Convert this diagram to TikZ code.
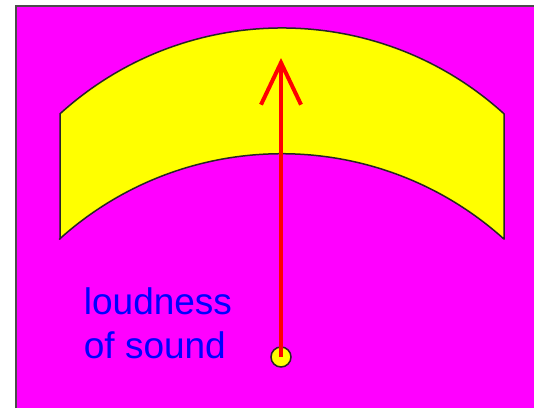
\documentclass[tikz,border=0pt]{standalone}
\usepackage{fontspec}
\setmainfont{Liberation Sans}
\usetikzlibrary{arrows.meta,positioning}
\definecolor{panelpink}{RGB}{255,0,255}
\definecolor{bandyellow}{RGB}{255,255,0}
\definecolor{needlered}{RGB}{255,0,0}
\definecolor{labelblue}{RGB}{0,0,255}

\begin{document}
\begin{tikzpicture}[
  x=0.5pt, y=0.5pt,
  panel/.style={fill=panelpink},
  frame/.style={draw=black!70, line width=0.8pt},
  band/.style={draw=black!85, line width=0.75pt, fill=bandyellow, line join=round},
  pointer/.style={draw=needlered, line width=2pt, -{Straight Barb[length=21pt, width=20pt]}},
  pivotdot/.style={circle, draw=black!85, line width=0.75pt, fill=bandyellow,
                   minimum size=10pt, inner sep=0pt},
  label/.style={text=labelblue, align=left, inner sep=0pt,
                font=\fontsize{18.5}{22}\selectfont}
]
\useasboundingbox (0,0) rectangle (534,408);
% background panel
\fill[panel] (16,0) rectangle (534,402);
\draw[frame] (16,0) -- (16,402) -- (534,402);
% the curved scale
\draw[band] (60,168.9) -- (60,294.2) arc[start angle=132.28, end angle=47.72, radius=330]
  -- (504,168.9) arc[start angle=47.97, end angle=132.03, radius=332] -- cycle;
% needle
\node[pivotdot] (pivot) at (281,51) {};
\coordinate (tip) at (281,350);
\draw[pointer] (pivot.center) -- (tip);
\node[label, anchor=north west] (text) at (83.5,121) {loudness\\of sound};
\end{tikzpicture}
\end{document}
